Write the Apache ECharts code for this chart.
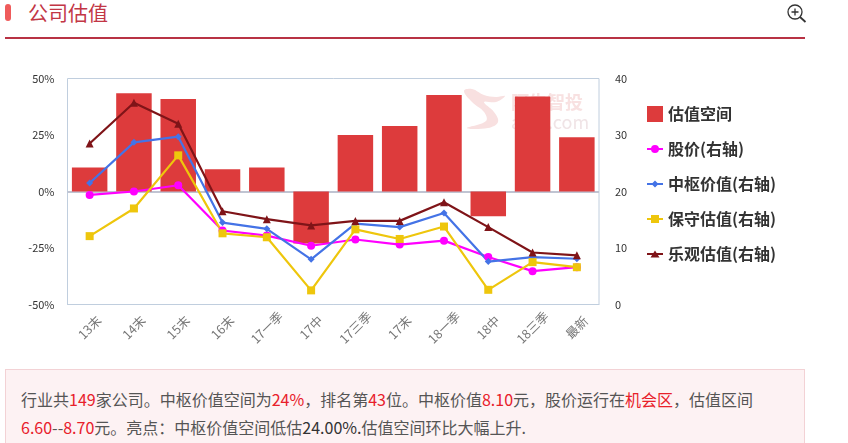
<!DOCTYPE html>
<html>
<head>
<meta charset="utf-8">
<title>公司估值</title>
<script src="https://cdn.jsdelivr.net/npm/echarts@6/dist/echarts.min.js"></script>
<style>
  html, body { margin: 0; padding: 0; background: #fff; overflow: hidden; }
  body { width: 848px; height: 443px; position: relative; font-family: "Noto Sans CJK SC", sans-serif; }
  .pill { position: absolute; left: 5px; top: 4px; width: 6px; height: 17px; border-radius: 3px; background: #ef5b5b; }
  .title { position: absolute; left: 28px; top: 0; font-size: 20px; line-height: 26px; color: #c23645; }
  .rule { position: absolute; left: 5px; top: 37px; width: 800px; height: 2px; background: #b83244; }
  .zoom { position: absolute; left: 786px; top: 3px; }
  #chart { position: absolute; left: 0; top: 60px; width: 810px; height: 295px; }
  .note { position: absolute; left: 5px; top: 369px; width: 763px; height: 80px; padding: 15px 20px 0 15px; background: #fdf2f3; border: 1px solid #f3d2d5;
          font-size: 16px; line-height: 28px; color: #555; }
  .note b { font-weight: normal; color: #e8202a; }
  .note i { font-style: normal; color: #333; }
</style>
</head>
<body>
<div class="pill"></div>
<div class="title">公司估值</div>
<div class="rule"></div>
<svg class="zoom" width="21" height="21" viewBox="0 0 21 21" fill="none" stroke="#333" stroke-width="1.3">
  <circle cx="9" cy="9" r="7"/><path d="M9 5.5v7M5.5 9h7"/><path d="M14 14l5.5 5" stroke-width="1.8"/>
</svg>
<div id="chart"></div>
<div class="note">行业共<b>149</b>家公司。中枢价值空间为<b>24%</b>，排名第<b>43</b>位。中枢价值<b>8.10</b>元，股价运行在<b>机会区</b>，估值区间<br><b>6.60</b>--<b>8.70</b>元。亮点：中枢价值空间低估<i>24.00%.</i>估值空间环比大幅上升.</div>
<script>
const categories = ["13末", "14末", "15末", "16末", "17一季", "17中", "17三季", "17末", "18一季", "18中", "18三季", "最新"];
// 左轴 %
const spaceValues = [10.6, 43.5, 40.9, 9.9, 10.6, -23, 25, 29, 42.7, -11, 42, 24];
// 右轴
const priceValues = [19.4, 20.0, 21.1, 13.1, 12.2, 10.4, 11.5, 10.6, 11.3, 8.4, 5.9, 6.6];
const centerValues = [21.5, 28.7, 29.7, 14.5, 13.4, 8.0, 14.3, 13.7, 16.2, 7.6, 8.4, 8.1];
const conservativeValues = [12.1, 17.0, 26.4, 12.6, 11.9, 2.5, 13.3, 11.6, 13.8, 2.6, 7.5, 6.6];
const optimisticValues = [28.5, 35.7, 32.0, 16.5, 15.1, 14.0, 14.8, 14.8, 18.1, 13.7, 9.2, 8.7];

const axisColor = "#c0cede";
const chartFont = "Noto Sans CJK SC";

// 图例小图标: 16x16,一条横线加中间的标记,都按顺时针画,重叠处才不会镂空
const legendLine = "M0 7h16v2H0z";
const legendIcons = {
  circle: "path://" + legendLine + "M8 4a4 4 0 1 1-.01 0z",
  diamond: "path://" + legendLine + "M8 4.5l3.5 3.5-3.5 3.5-3.5-3.5z",
  rect: "path://" + legendLine + "M4 4h8v8h-8z",
  triangle: "path://" + legendLine + "M8 4.5l4.5 7h-9z",
};

const chartInstance = echarts.init(document.getElementById("chart"));

const makeLine = (name, data, color, symbol, symbolSize) => ({
  name,
  type: "line",
  yAxisIndex: 1,
  data,
  symbol,
  symbolSize,
  lineStyle: { color, width: 2.2 },
  itemStyle: { color },
  animation: false,
});

chartInstance.setOption({
  animation: false,
  textStyle: { fontFamily: chartFont },
  grid: { left: 67.5, right: 211, top: 18.5, height: 226, show: true, borderColor: axisColor, borderWidth: 1 },
  legend: {
    orient: "vertical",
    left: 647,
    top: 46,
    padding: 0,
    itemWidth: 16,
    itemHeight: 16,
    itemGap: 19,
    textStyle: { fontSize: 16, fontWeight: "bold", color: "#333", fontFamily: chartFont },
    data: [
      { name: "估值空间", icon: "rect" },
      { name: "股价(右轴)", icon: legendIcons.circle },
      { name: "中枢价值(右轴)", icon: legendIcons.diamond },
      { name: "保守估值(右轴)", icon: legendIcons.rect },
      { name: "乐观估值(右轴)", icon: legendIcons.triangle },
    ],
  },
  xAxis: {
    type: "category",
    data: categories,
    axisLine: { onZero: false, lineStyle: { color: axisColor } },
    axisTick: { length: 9, lineStyle: { color: axisColor } },
    axisLabel: { rotate: 45, align: "center", verticalAlign: "middle", color: "#777", fontSize: 12.5, interval: 0, margin: 23 },
  },
  yAxis: [
    {
      type: "value",
      min: -50,
      max: 50,
      interval: 25,
      axisLine: { show: false },
      axisTick: { show: false },
      axisLabel: { formatter: "{value}%", color: "#333", fontSize: 11, margin: 13, padding: [0, 0, 2, 0] },
      //只显示0轴那一条
      splitLine: { lineStyle: { color: ["transparent", "transparent", "#c0c4d2", "transparent", "transparent"], width: 2 } },
    },
    {
      type: "value",
      min: 0,
      max: 40,
      interval: 10,
      axisLine: { show: false },
      axisTick: { show: false },
      axisLabel: { color: "#333", fontSize: 11, margin: 16, padding: [0, 0, 2, 0] },
      splitLine: { show: false },
    },
  ],
  // 水印
  graphic: [
    { type: "polygon", z: 0, silent: true,
      shape: { smooth: 0.4, points: [[464, 31], [472, 29], [484, 35], [496, 37], [505, 36], [496, 42], [484, 42], [494, 52], [498, 62], [488, 68], [467, 68], [486, 61], [484, 52], [472, 42]] },
      style: { fill: "#f8e0e0" } },
    { type: "text", z: 0, silent: true, left: 511, top: 33,
      style: { text: "阿牛智投", fontSize: 18, fontWeight: "bold", fill: "#f8e1e1", fontFamily: chartFont } },
    { type: "text", z: 0, silent: true, left: 511, top: 53,
      style: { text: "aniu.com", fontSize: 18, fill: "#f0e4e6", fontFamily: chartFont } },
  ],
  series: [
    {
      name: "估值空间",
      type: "bar",
      yAxisIndex: 0,
      data: spaceValues,
      barWidth: 35.5,
      itemStyle: { color: "#dd3b3c" },
    },
    makeLine("股价(右轴)", priceValues, "#ff00ff", "circle", 8),
    makeLine("中枢价值(右轴)", centerValues, "#4473e6", "diamond", 7),
    makeLine("保守估值(右轴)", conservativeValues, "#eec60c", "rect", 8),
    makeLine("乐观估值(右轴)", optimisticValues, "#7f1418", "triangle", 8),
  ],
});
</script>
</body>
</html>
